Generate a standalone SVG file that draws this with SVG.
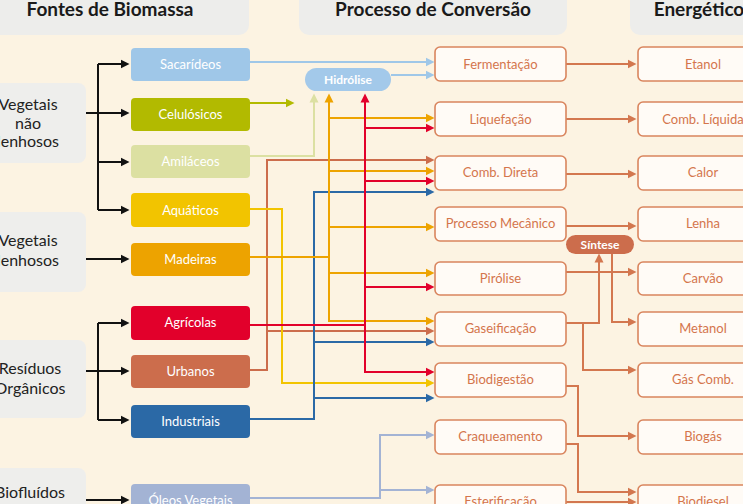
<svg xmlns="http://www.w3.org/2000/svg" width="743" height="504" viewBox="0 0 743 504">
<defs>
<style>
.hdr{fill:#EDEDEB}
.hdrt{font-family:Lato,"Open Sans",sans-serif;font-weight:bold;font-size:19px;fill:#1a1a1a;text-anchor:middle}
.cat{fill:#EEEEEC}
.catt{font-family:Lato,"Open Sans",sans-serif;font-size:16px;fill:#222;text-anchor:middle}
.srct{font-family:Lato,"Open Sans",sans-serif;font-size:13px;fill:#fff;text-anchor:middle}
.proc{fill:#FFFBF6;stroke:#D9855E;stroke-width:1.6}
.proct{font-family:Lato,"Open Sans",sans-serif;font-size:13px;fill:#D4754C;text-anchor:middle}
.pillt{font-family:Lato,"Open Sans",sans-serif;font-size:12px;font-weight:bold;fill:#fff;text-anchor:middle}
.c{fill:none;stroke-width:2}
.k{stroke:#111}
.lb{stroke:#9FC7E8}
.ol{stroke:#B2BA00}
.pa{stroke:#DCE0A2}
.or{stroke:#EDA300}
.rd{stroke:#E2002B}
.ur{stroke:#CC6D4C}
.ye{stroke:#F2C400}
.bl{stroke:#2B69A6}
.ov{stroke:#A3B3D4}
.br{stroke:#D3774F}
</style>
<marker id="mk" markerUnits="userSpaceOnUse" markerWidth="10" markerHeight="10" viewBox="0 -5 10 10" refX="0.5" refY="0" orient="auto"><path d="M0,-4.5 L9,0 L0,4.5z" fill="#111"/></marker>
<marker id="mlb" markerUnits="userSpaceOnUse" markerWidth="10" markerHeight="10" viewBox="0 -5 10 10" refX="0.5" refY="0" orient="auto"><path d="M0,-4.5 L9,0 L0,4.5z" fill="#9FC7E8"/></marker>
<marker id="mol" markerUnits="userSpaceOnUse" markerWidth="10" markerHeight="10" viewBox="0 -5 10 10" refX="0.5" refY="0" orient="auto"><path d="M0,-4.5 L9,0 L0,4.5z" fill="#B2BA00"/></marker>
<marker id="mpa" markerUnits="userSpaceOnUse" markerWidth="10" markerHeight="10" viewBox="0 -5 10 10" refX="0.5" refY="0" orient="auto"><path d="M0,-4.5 L9,0 L0,4.5z" fill="#DCE0A2"/></marker>
<marker id="mor" markerUnits="userSpaceOnUse" markerWidth="10" markerHeight="10" viewBox="0 -5 10 10" refX="0.5" refY="0" orient="auto"><path d="M0,-4.5 L9,0 L0,4.5z" fill="#EDA300"/></marker>
<marker id="mrd" markerUnits="userSpaceOnUse" markerWidth="10" markerHeight="10" viewBox="0 -5 10 10" refX="0.5" refY="0" orient="auto"><path d="M0,-4.5 L9,0 L0,4.5z" fill="#E2002B"/></marker>
<marker id="mur" markerUnits="userSpaceOnUse" markerWidth="10" markerHeight="10" viewBox="0 -5 10 10" refX="0.5" refY="0" orient="auto"><path d="M0,-4.5 L9,0 L0,4.5z" fill="#CC6D4C"/></marker>
<marker id="mye" markerUnits="userSpaceOnUse" markerWidth="10" markerHeight="10" viewBox="0 -5 10 10" refX="0.5" refY="0" orient="auto"><path d="M0,-4.5 L9,0 L0,4.5z" fill="#F2C400"/></marker>
<marker id="mbl" markerUnits="userSpaceOnUse" markerWidth="10" markerHeight="10" viewBox="0 -5 10 10" refX="0.5" refY="0" orient="auto"><path d="M0,-4.5 L9,0 L0,4.5z" fill="#2B69A6"/></marker>
<marker id="mov" markerUnits="userSpaceOnUse" markerWidth="10" markerHeight="10" viewBox="0 -5 10 10" refX="0.5" refY="0" orient="auto"><path d="M0,-4.5 L9,0 L0,4.5z" fill="#A3B3D4"/></marker>
<marker id="mbr" markerUnits="userSpaceOnUse" markerWidth="10" markerHeight="10" viewBox="0 -5 10 10" refX="0.5" refY="0" orient="auto"><path d="M0,-4.5 L9,0 L0,4.5z" fill="#D3774F"/></marker>
</defs>
<rect x="0" y="0" width="743" height="504" fill="#FCF3E2"/>

<!-- headers -->
<g id="hdr-fontes"><rect class="hdr" x="-12" y="-12" width="261" height="47" rx="10"/><text class="hdrt" x="110" y="16">Fontes de Biomassa</text></g>
<g id="hdr-processo"><rect class="hdr" x="299" y="-12" width="268" height="47" rx="10"/><text class="hdrt" x="433" y="16">Processo de Conversão</text></g>
<g id="hdr-energetico"><rect class="hdr" x="630" y="-12" width="140" height="47" rx="10"/><text class="hdrt" x="699" y="16">Energético</text></g>

<!-- categories -->
<g id="cat-nao-lenhosos"><rect class="cat" x="-12" y="83" width="98" height="80" rx="8"/><text class="catt" x="28" y="110">Vegetais</text><text class="catt" x="28" y="129">não</text><text class="catt" x="28" y="147">lenhosos</text></g>
<g id="cat-lenhosos"><rect class="cat" x="-12" y="212" width="98" height="80" rx="8"/><text class="catt" x="28" y="246">Vegetais</text><text class="catt" x="28" y="266">lenhosos</text></g>
<g id="cat-residuos"><rect class="cat" x="-12" y="340" width="98" height="78" rx="8"/><text class="catt" x="30" y="374">Resíduos</text><text class="catt" x="30" y="394">Orgânicos</text></g>
<g id="cat-biofluidos"><rect class="cat" x="-12" y="468" width="98" height="50" rx="8"/><text class="catt" x="30" y="498">Biofluídos</text></g>

<!-- connectors -->
<g id="connectors">
<path class="c k" d="M86,113 H98 M98,64 V210 M86,371 H98 M98,323 V420"/>
<path class="c k" d="M98,64 H121" marker-end="url(#mk)"/>
<path class="c k" d="M98,113 H121" marker-end="url(#mk)"/>
<path class="c k" d="M98,162 H121" marker-end="url(#mk)"/>
<path class="c k" d="M98,210 H121" marker-end="url(#mk)"/>
<path class="c k" d="M86,259 H121" marker-end="url(#mk)"/>
<path class="c k" d="M98,323 H121" marker-end="url(#mk)"/>
<path class="c k" d="M98,371 H121" marker-end="url(#mk)"/>
<path class="c k" d="M98,420 H121" marker-end="url(#mk)"/>
<path class="c k" d="M86,500 H121" marker-end="url(#mk)"/>

<path class="c lb" d="M250,62 H426" marker-end="url(#mlb)"/>
<path class="c lb" d="M391,75 H426" marker-end="url(#mlb)"/>
<path class="c ol" d="M250,103 H286" marker-end="url(#mol)"/>
<path class="c pa" d="M250,156 H314 V102" marker-end="url(#mpa)"/>

<path class="c ur" d="M250,370 H267 V160 H426" marker-end="url(#mur)"/>
<path class="c ur" d="M267,331 H426" marker-end="url(#mur)"/>

<path class="c ye" d="M250,209 H282 V383 H426" marker-end="url(#mye)"/>

<path class="c bl" d="M250,419 H314 V192 H426" marker-end="url(#mbl)"/>
<path class="c bl" d="M314,342 H426" marker-end="url(#mbl)"/>
<path class="c bl" d="M314,398 H426" marker-end="url(#mbl)"/>

<path class="c or" d="M250,257 H329"/>
<path class="c or" d="M329,321 V102" marker-end="url(#mor)"/>
<path class="c or" d="M329,118 H426" marker-end="url(#mor)"/>
<path class="c or" d="M329,171 H426" marker-end="url(#mor)"/>
<path class="c or" d="M329,227 H426" marker-end="url(#mor)"/>
<path class="c or" d="M329,273 H426" marker-end="url(#mor)"/>
<path class="c or" d="M328,321 H426" marker-end="url(#mor)"/>

<path class="c rd" d="M250,325 H365"/>
<path class="c rd" d="M365,372 V102" marker-end="url(#mrd)"/>
<path class="c rd" d="M365,128 H426" marker-end="url(#mrd)"/>
<path class="c rd" d="M365,181 H426" marker-end="url(#mrd)"/>
<path class="c rd" d="M365,287 H426" marker-end="url(#mrd)"/>
<path class="c rd" d="M364,372 H426" marker-end="url(#mrd)"/>

<path class="c ov" d="M250,498 H380 V435 H426" marker-end="url(#mov)"/>
<path class="c ov" d="M380,490 H426" marker-end="url(#mov)"/>

<path class="c br" d="M566,64 H628" marker-end="url(#mbr)"/>
<path class="c br" d="M566,119 H628" marker-end="url(#mbr)"/>
<path class="c br" d="M566,174 H628" marker-end="url(#mbr)"/>
<path class="c br" d="M566,226 H628" marker-end="url(#mbr)"/>
<path class="c br" d="M566,272 H628" marker-end="url(#mbr)"/>
<path class="c br" d="M566,323 H599 V262" marker-end="url(#mbr)"/>
<path class="c br" d="M612,253 V322 H628" marker-end="url(#mbr)"/>
<path class="c br" d="M583,323 V370 H628" marker-end="url(#mbr)"/>
<path class="c br" d="M566,386 H578 V436 H628" marker-end="url(#mbr)"/>
<path class="c br" d="M566,444 H578 V492 H628" marker-end="url(#mbr)"/>
<path class="c br" d="M566,502 H628" marker-end="url(#mbr)"/>
</g>

<!-- sources -->
<g id="src-sacarideos"><rect x="131" y="48" width="119" height="33" rx="4" fill="#9FC7E8"/><text class="srct" x="190.5" y="69">Sacarídeos</text></g>
<g id="src-celulosicos"><rect x="131" y="98" width="119" height="33" rx="4" fill="#B2BA00"/><text class="srct" x="190.5" y="119">Celulósicos</text></g>
<g id="src-amilaceos"><rect x="131" y="145" width="119" height="33" rx="4" fill="#DCE0A2"/><text class="srct" x="190.5" y="166">Amiláceos</text></g>
<g id="src-aquaticos"><rect x="131" y="193" width="119" height="34" rx="4" fill="#F2C400"/><text class="srct" x="190.5" y="215">Aquáticos</text></g>
<g id="src-madeiras"><rect x="131" y="243" width="119" height="33" rx="4" fill="#EDA300"/><text class="srct" x="190.5" y="264">Madeiras</text></g>
<g id="src-agricolas"><rect x="131" y="306" width="119" height="34" rx="4" fill="#E2002B"/><text class="srct" x="190.5" y="327">Agrícolas</text></g>
<g id="src-urbanos"><rect x="131" y="355" width="119" height="33" rx="4" fill="#CC6D4C"/><text class="srct" x="190.5" y="376">Urbanos</text></g>
<g id="src-industriais"><rect x="131" y="405" width="119" height="33" rx="4" fill="#2B69A6"/><text class="srct" x="190.5" y="426">Industriais</text></g>
<g id="src-oleos"><rect x="131" y="484" width="119" height="33" rx="4" fill="#A3B3D4"/><text class="srct" x="190.5" y="505">Óleos Vegetais</text></g>

<!-- pills -->
<g id="hidrolise"><rect x="305" y="68" width="86" height="23" rx="11.5" fill="#A3C9EA"/><text class="pillt" x="348" y="84">Hidrólise</text></g>
<g id="sintese"><rect x="566" y="235" width="68" height="19" rx="9.5" fill="#CC6D4C"/><text class="pillt" x="600" y="249">Síntese</text></g>

<!-- processes -->
<g id="p-fermentacao"><rect class="proc" x="435" y="47" width="131" height="34" rx="5"/><text class="proct" x="500.5" y="68.5">Fermentação</text></g>
<g id="p-liquefacao"><rect class="proc" x="435" y="102" width="131" height="34" rx="5"/><text class="proct" x="500.5" y="123.5">Liquefação</text></g>
<g id="p-combdireta"><rect class="proc" x="435" y="156" width="131" height="34" rx="5"/><text class="proct" x="500.5" y="177">Comb. Direta</text></g>
<g id="p-mecanico"><rect class="proc" x="435" y="207" width="131" height="34" rx="5"/><text class="proct" x="500.5" y="228">Processo Mecânico</text></g>
<g id="p-pirolise"><rect class="proc" x="435" y="262" width="131" height="33" rx="5"/><text class="proct" x="500.5" y="283">Pirólise</text></g>
<g id="p-gaseificacao"><rect class="proc" x="435" y="312" width="131" height="34" rx="5"/><text class="proct" x="500.5" y="333">Gaseificação</text></g>
<g id="p-biodigestao"><rect class="proc" x="435" y="363" width="131" height="34" rx="5"/><text class="proct" x="500.5" y="384">Biodigestão</text></g>
<g id="p-craqueamento"><rect class="proc" x="435" y="420" width="131" height="34" rx="5"/><text class="proct" x="500.5" y="441">Craqueamento</text></g>
<g id="p-esterificacao"><rect class="proc" x="435" y="485" width="131" height="34" rx="5"/><text class="proct" x="500.5" y="506">Esterificação</text></g>

<!-- energetics -->
<g id="e-etanol"><rect class="proc" x="638" y="47" width="130" height="34" rx="5"/><text class="proct" x="703" y="68.5">Etanol</text></g>
<g id="e-combliquida"><rect class="proc" x="638" y="102" width="130" height="34" rx="5"/><text class="proct" x="703" y="123.5">Comb. Líquida</text></g>
<g id="e-calor"><rect class="proc" x="638" y="156" width="130" height="34" rx="5"/><text class="proct" x="703" y="177">Calor</text></g>
<g id="e-lenha"><rect class="proc" x="638" y="207" width="130" height="34" rx="5"/><text class="proct" x="703" y="228">Lenha</text></g>
<g id="e-carvao"><rect class="proc" x="638" y="262" width="130" height="33" rx="5"/><text class="proct" x="703" y="283">Carvão</text></g>
<g id="e-metanol"><rect class="proc" x="638" y="312" width="130" height="34" rx="5"/><text class="proct" x="703" y="333">Metanol</text></g>
<g id="e-gascomb"><rect class="proc" x="638" y="363" width="130" height="34" rx="5"/><text class="proct" x="703" y="384">Gás Comb.</text></g>
<g id="e-biogas"><rect class="proc" x="638" y="420" width="130" height="34" rx="5"/><text class="proct" x="703" y="441">Biogás</text></g>
<g id="e-biodiesel"><rect class="proc" x="638" y="485" width="130" height="34" rx="5"/><text class="proct" x="703" y="506">Biodiesel</text></g>
</svg>
